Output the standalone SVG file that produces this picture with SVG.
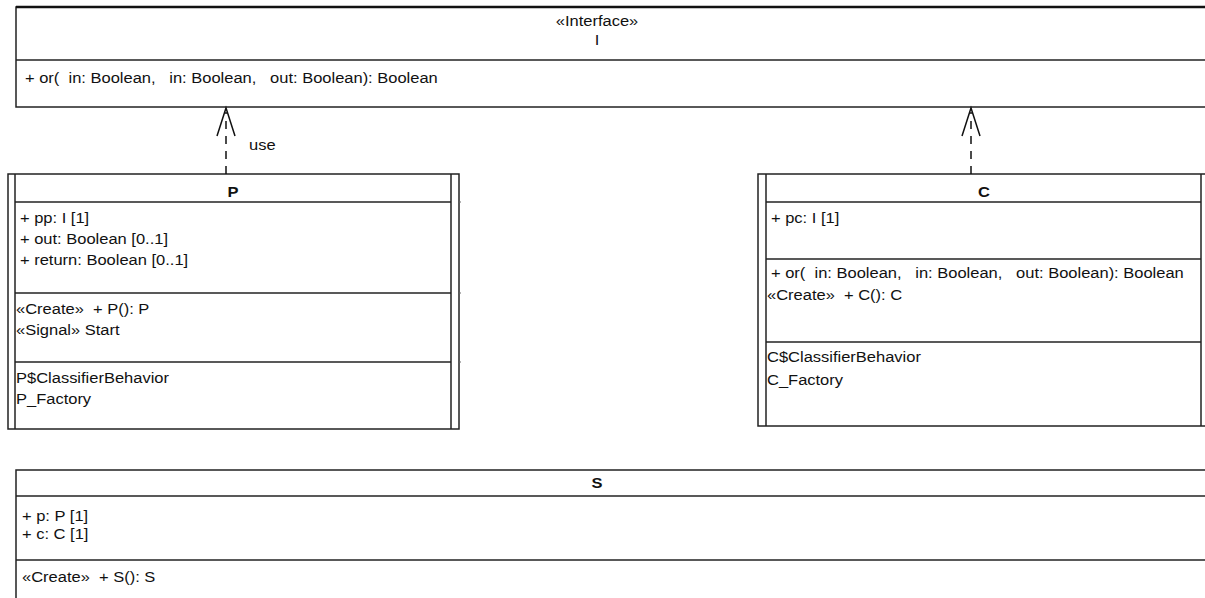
<svg xmlns="http://www.w3.org/2000/svg" width="1205" height="598" viewBox="0 0 1205 598">
<style>
text{font-family:"Liberation Sans",Arial,sans-serif;font-size:15px;fill:#111;white-space:pre}
.b{font-weight:bold}
.m{text-anchor:middle}
.box{fill:#fff;stroke:#222;stroke-width:1.5}
.ln{stroke:#222;stroke-width:1.5;fill:none}
.tick{stroke:#666;stroke-width:1;fill:none}
.dash{stroke:#111;stroke-width:1.5;stroke-dasharray:8 7;fill:none}
.head{stroke:#111;stroke-width:1.5;fill:none}
</style>
<rect x="0" y="0" width="1205" height="598" fill="#fff"/>
<g id="I">
<rect class="box" x="16" y="7" width="1200" height="100"/>
<line x1="16" y1="7" x2="1205" y2="7" stroke="#111" stroke-width="2.5"/>
<line class="ln" x1="16" y1="60" x2="1205" y2="60"/>
<text class="m" transform="matrix(1.1 0 0 1 597 26)">«Interface»</text>
<text class="m" transform="matrix(1.1 0 0 1 597 45)">I</text>
<text transform="matrix(1.1 0 0 1 25 83)" xml:space="preserve">+ or(  in: Boolean,   in: Boolean,   out: Boolean): Boolean</text>
</g>
<g id="P">
<rect class="box" x="8" y="174" width="451" height="255"/>
<line class="ln" x1="15" y1="174" x2="15" y2="429"/>
<line class="ln" x1="451" y1="174" x2="451" y2="429"/>
<line class="ln" x1="15" y1="202" x2="451" y2="202"/>
<line class="ln" x1="15" y1="293" x2="451" y2="293"/>
<line class="ln" x1="15" y1="362" x2="451" y2="362"/>
<line class="tick" x1="459" y1="202" x2="461" y2="202"/>
<line class="tick" x1="459" y1="293" x2="461" y2="293"/>
<line class="tick" x1="459" y1="362" x2="461" y2="362"/>
<text class="m b" transform="matrix(1.1 0 0 1 233 197)">P</text>
<text transform="matrix(1.1 0 0 1 20 223)">+ pp: I [1]</text>
<text transform="matrix(1.1 0 0 1 20 244)">+ out: Boolean [0..1]</text>
<text transform="matrix(1.1 0 0 1 20 265)">+ return: Boolean [0..1]</text>
<text transform="matrix(1.1 0 0 1 16 314)" xml:space="preserve">«Create»  + P(): P</text>
<text transform="matrix(1.1 0 0 1 16 335)">«Signal» Start</text>
<text transform="matrix(1.1 0 0 1 16 383)">P$ClassifierBehavior</text>
<text transform="matrix(1.1 0 0 1 16 404)">P_Factory</text>
</g>
<g id="C">
<rect class="box" x="758" y="174" width="451" height="252"/>
<line class="ln" x1="766" y1="174" x2="766" y2="426"/>
<line class="ln" x1="1201" y1="174" x2="1201" y2="426"/>
<line class="ln" x1="766" y1="202" x2="1201" y2="202"/>
<line class="ln" x1="766" y1="259" x2="1201" y2="259"/>
<line class="ln" x1="766" y1="342" x2="1201" y2="342"/>
<text class="m b" transform="matrix(1.1 0 0 1 984 197)">C</text>
<text transform="matrix(1.1 0 0 1 771 223)">+ pc: I [1]</text>
<text transform="matrix(1.1 0 0 1 771 278)" xml:space="preserve">+ or(  in: Boolean,   in: Boolean,   out: Boolean): Boolean</text>
<text transform="matrix(1.1 0 0 1 767 300)" xml:space="preserve">«Create»  + C(): C</text>
<text transform="matrix(1.1 0 0 1 767 362)">C$ClassifierBehavior</text>
<text transform="matrix(1.1 0 0 1 767 385)">C_Factory</text>
</g>
<g id="S">
<rect class="box" x="16" y="470" width="1200" height="140"/>
<line class="ln" x1="16" y1="496" x2="1205" y2="496"/>
<line class="ln" x1="16" y1="560" x2="1205" y2="560"/>
<text class="m b" transform="matrix(1.1 0 0 1 597 488)">S</text>
<text transform="matrix(1.1 0 0 1 22 521)">+ p: P [1]</text>
<text transform="matrix(1.1 0 0 1 22 539)">+ c: C [1]</text>
<text transform="matrix(1.1 0 0 1 22 582)" xml:space="preserve">«Create»  + S(): S</text>
</g>
<g id="connectors">
<line class="dash" x1="226" y1="174" x2="226" y2="112"/>
<polyline class="head" points="217,136 226,108 235,136"/>
<text transform="matrix(1.1 0 0 1 249 150)">use</text>
<line class="dash" x1="971" y1="174" x2="971" y2="112"/>
<polyline class="head" points="962,136 971,108 980,136"/>
</g>
</svg>
